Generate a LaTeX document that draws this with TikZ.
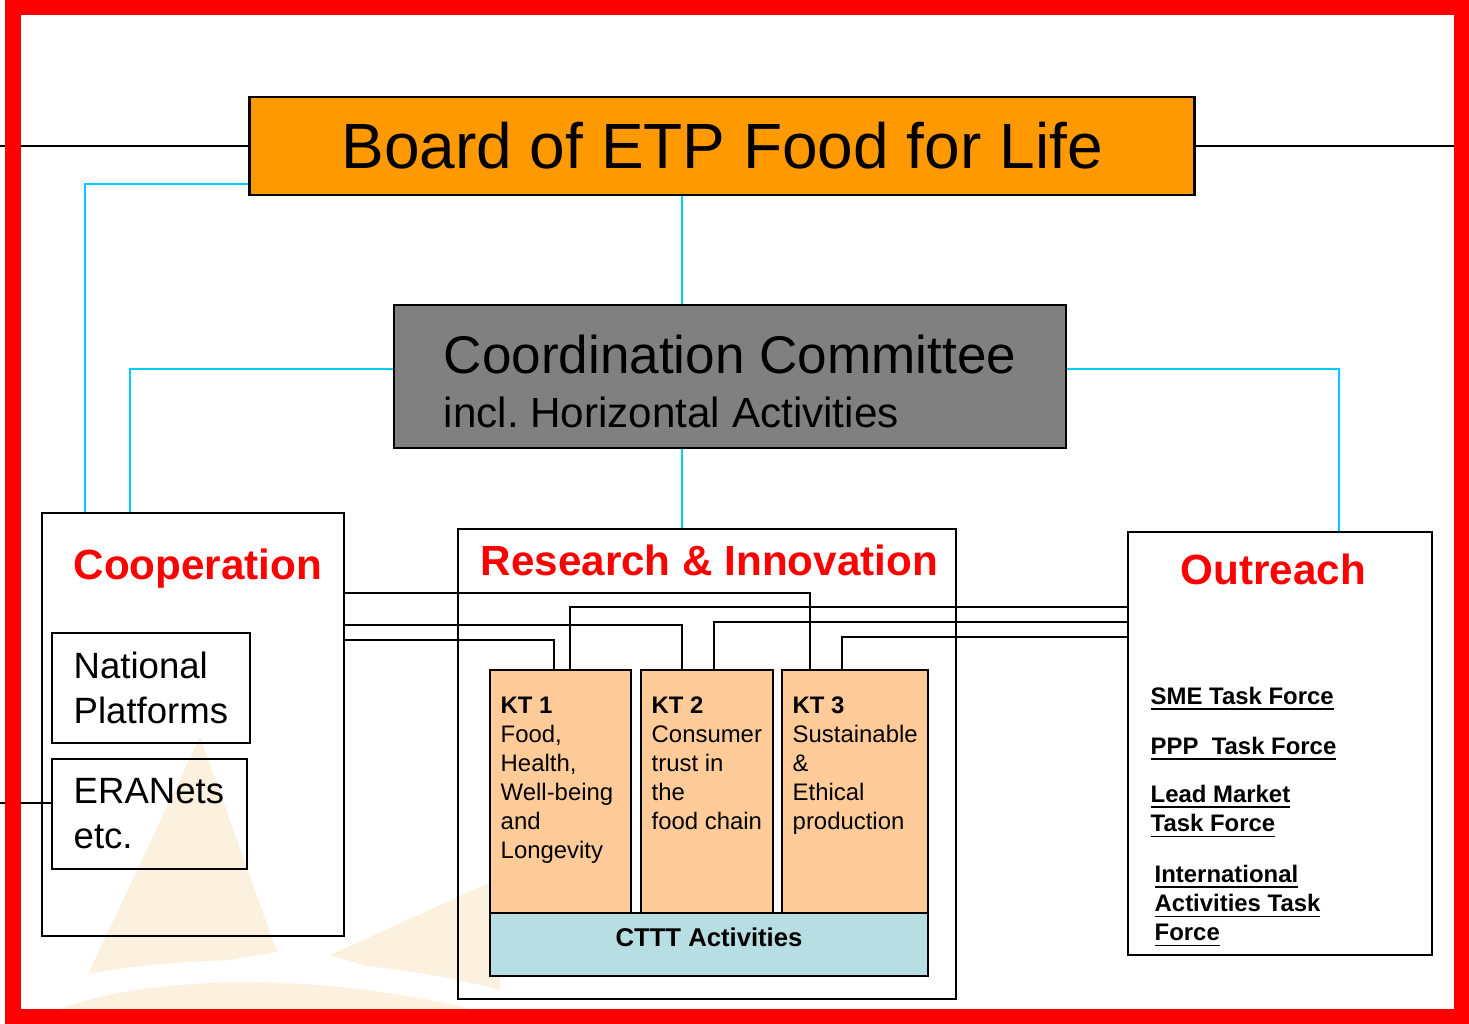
\documentclass[tikz,border=0pt]{standalone}
\usepackage{fontspec}
\setmainfont{Liberation Sans}
\usepackage{xcolor}
\usepackage{tikz}
\definecolor{boardorange}{RGB}{255,153,0}
\definecolor{ccgray}{RGB}{128,128,128}
\definecolor{linkcyan}{RGB}{0,204,255}
\definecolor{ktpeach}{RGB}{255,204,153}
\definecolor{ctttblue}{RGB}{183,222,226}
\definecolor{markbeige}{RGB}{252,240,222}
\definecolor{framered}{RGB}{255,0,0}

\begin{document}
\begin{tikzpicture}[x=0.01cm, y=-0.01cm,
  box/.style={draw=black, line width=0.7pt, inner sep=0pt},
  cyanlink/.style={linkcyan, line width=0.6pt},
  tielink/.style={black, line width=0.6pt},
  headtext/.style={text=red, font=\fontsize{12}{14}\selectfont\bfseries, inner sep=0pt, anchor=base west},
  bigtext/.style={font=\fontsize{10.4}{12.8}\selectfont, align=left, inner sep=0pt, anchor=north west},
  kttext/.style={font=\fontsize{6.8}{8.25}\selectfont, align=left, inner sep=0pt, anchor=north west},
  tasktext/.style={font=\fontsize{6.8}{8.25}\selectfont\bfseries, align=left, inner sep=0pt, anchor=north west}]
  \useasboundingbox (0,0) rectangle (1469,1024);
  \fill[markbeige] (83,985) -- (200,737) -- (277,952) -- cycle;
  \fill[markbeige] (330,955) -- (500,878) -- (500,1005) -- cycle;
  \fill[white] (21,1009) -- (21,992) .. controls (120,955) and (330,945) .. (500,990) -- (500,1009) -- cycle;
  \fill[markbeige] (60,1009) .. controls (150,975) and (320,972) .. (470,1009) -- cycle;
  \node[box, fill=boardorange, minimum width=9.44cm, minimum height=0.98cm, font=\fontsize{18.2}{22}\selectfont] (board) at (722,146) {Board of ETP Food for Life};
  \node[box, fill=ccgray, minimum width=6.72cm, minimum height=1.43cm] (ccom) at (730,376.5) {};
  \node[box, minimum width=3.02cm, minimum height=4.23cm] (coop) at (193,724.5) {};
  \node[box, minimum width=1.98cm, minimum height=1.10cm] (natplat) at (151,688) {};
  \node[box, minimum width=1.95cm, minimum height=1.10cm] (eranet) at (149.5,814) {};
  \node[box, minimum width=4.98cm, minimum height=4.70cm] (rni) at (707,764) {};
  \node[box, minimum width=3.04cm, minimum height=4.23cm] (outr) at (1280,743.5) {};
  \node[box, fill=ktpeach, minimum width=1.41cm, minimum height=2.43cm] (kt1) at (560.5,791.5) {};
  \node[box, fill=ktpeach, minimum width=1.32cm, minimum height=2.43cm] (kt2) at (707,791.5) {};
  \node[box, fill=ktpeach, minimum width=1.46cm, minimum height=2.43cm] (kt3) at (855,791.5) {};
  \node[box, fill=ctttblue, minimum width=4.38cm, minimum height=0.63cm] (cttt) at (709,944.5) {};
  \node[font=\fontsize{15.1}{18}\selectfont, inner sep=0pt, anchor=base west] (cctitle) at (443,373) {Coordination Committee};
  \node[font=\fontsize{12}{14}\selectfont, inner sep=0pt, anchor=base west] (ccsub) at (443,427) {incl.\ Horizontal Activities};
  \node[headtext] (cooptitle) at (73,579) {Cooperation};
  \node[headtext] (rnititle) at (480,575) {Research \& Innovation};
  \node[headtext] (outtitle) at (1180,584) {Outreach};
  \node[bigtext] (nptext) at (73,651) {National\\Platforms};
  \node[bigtext] (eratext) at (73,778) {ERANets\\etc.};
  \node[kttext] (kt1text) at (500,696) {\textbf{KT 1}\\Food,\\Health,\\Well-being\\and\\Longevity};
  \node[kttext] (kt2text) at (651,696) {\textbf{KT 2}\\Consumer\\trust in\\the\\food chain};
  \node[kttext] (kt3text) at (792,696) {\textbf{KT 3}\\Sustainable\\\&\\Ethical\\production};
  \node[font=\fontsize{7.3}{9}\selectfont\bfseries, inner sep=0pt, anchor=base] (ctttlabel) at (709,946) {CTTT Activities};
  \node[tasktext] (sme) at (1150,686) {\underline{SME Task Force}};
  \node[tasktext] (ppp) at (1150,736) {\underline{PPP\ \ Task Force}};
  \node[tasktext] (lead) at (1150,784) {\underline{Lead Market}\\\underline{Task Force}};
  \node[tasktext] (intl) at (1154,864) {\underline{International}\\\underline{Activities Task}\\\underline{Force}};
  \coordinate (leftend) at (0,146);
  \coordinate (rightend) at (1469,146);
  \coordinate (eraend) at (0,803);
  \draw[tielink] (board.west) -- (leftend);
  \draw[tielink] (board.east) -- (rightend);
  \draw[tielink] (eranet.west |- eraend) -- (eraend);
  \draw[cyanlink] (board.west |- 0,184) -| (coop.north -| 85,0);
  \draw[cyanlink] (board.south -| 682,0) -- (ccom.north -| 682,0);
  \draw[cyanlink] (ccom.west |- 0,369) -| (coop.north -| 130,0);
  \draw[cyanlink] (ccom.east |- 0,369) -| (outr.north -| 1339,0);
  \draw[cyanlink] (ccom.south -| 682,0) -- (rni.north -| 682,0);
  \draw[tielink] (coop.east |- 0,593) -| (kt3.north -| 810,0);
  \draw[tielink] (coop.east |- 0,625) -| (kt2.north -| 682,0);
  \draw[tielink] (coop.east |- 0,640) -| (kt1.north -| 554,0);
  \draw[tielink] (outr.west |- 0,607) -| (kt1.north -| 570,0);
  \draw[tielink] (outr.west |- 0,622) -| (kt2.north -| 714,0);
  \draw[tielink] (outr.west |- 0,637) -| (kt3.north -| 842,0);
  \draw[framered, line width=0.155cm] (13,7.5) rectangle (1462,1016.5);
\end{tikzpicture}
\end{document}
